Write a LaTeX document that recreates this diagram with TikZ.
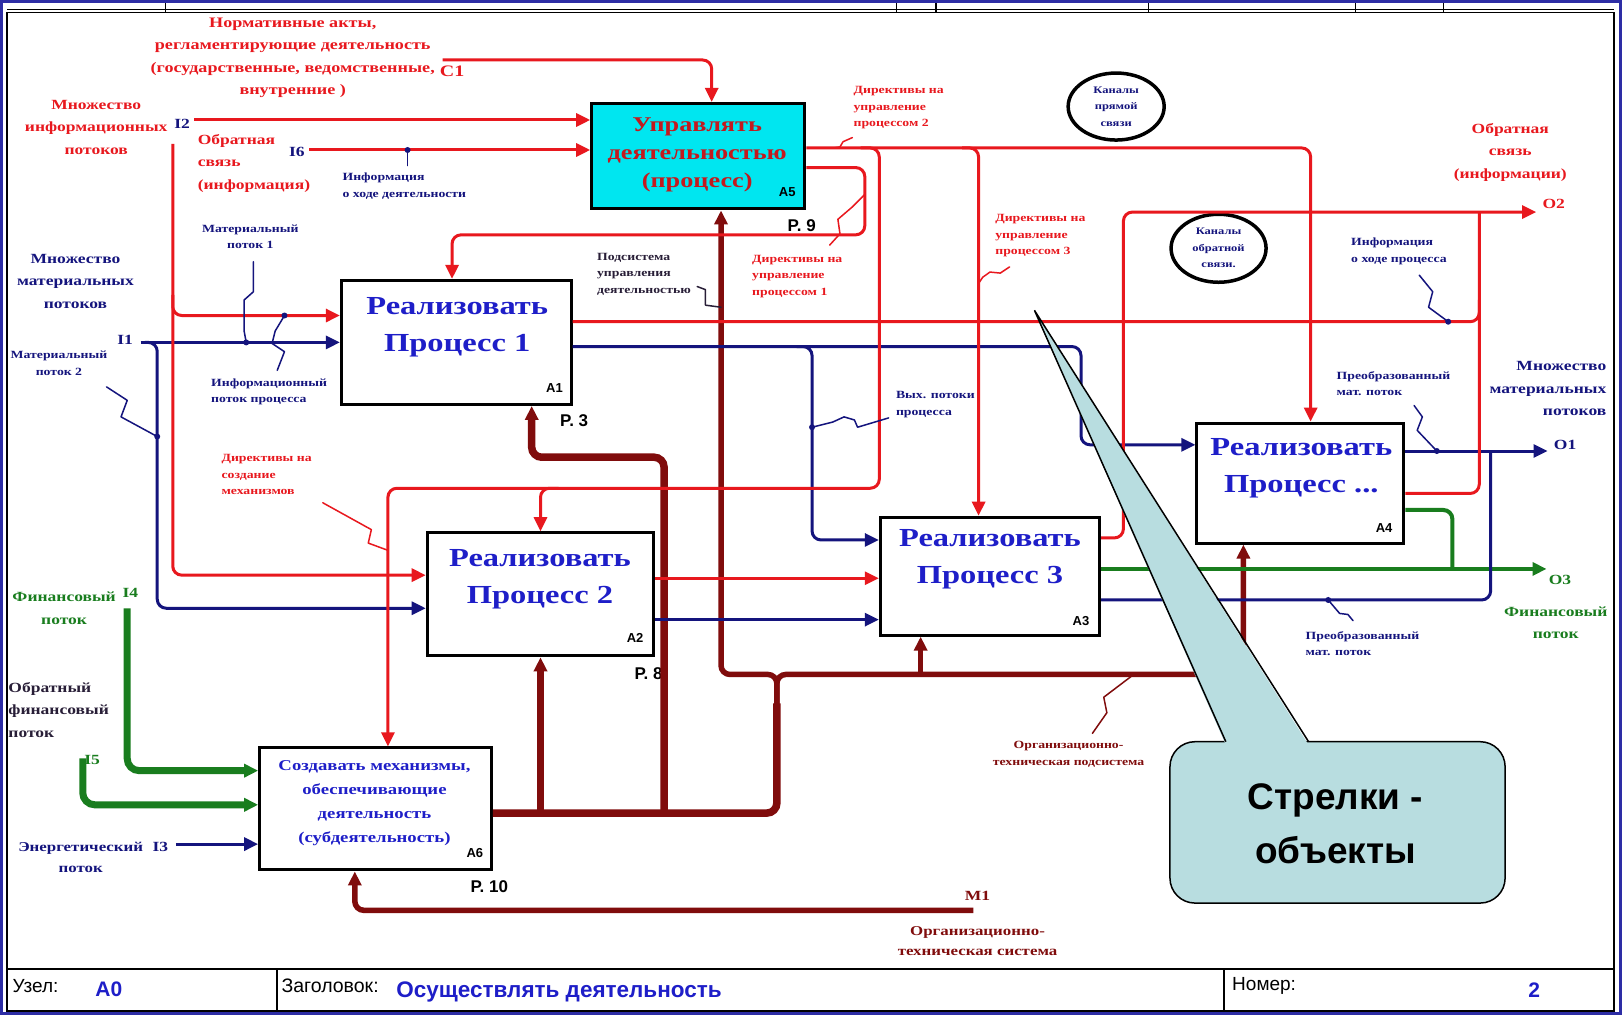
\documentclass[tikz,border=0pt]{standalone}
\usepackage{fontspec}
\setmainfont{Liberation Serif}
\newfontfamily\dser[FakeStretch=1.25]{Liberation Serif}
\newfontfamily\dsans{Liberation Sans}
\usetikzlibrary{arrows.meta,fit,shapes.geometric}
\definecolor{cred}{RGB}{232,24,30}
\definecolor{cnavy}{RGB}{20,20,125}
\definecolor{cgreen}{RGB}{25,125,30}
\definecolor{cmaroon}{RGB}{128,12,12}
\definecolor{cblue}{RGB}{30,30,200}
\definecolor{cdred}{RGB}{195,25,30}
\definecolor{ccyan}{RGB}{0,230,240}
\definecolor{ccall}{RGB}{184,221,224}
\definecolor{cframe}{RGB}{45,45,165}
\definecolor{cdark}{RGB}{40,30,55}
\newcommand\fsz[2]{\fontsize{#1}{#2}\selectfont}
\begin{document}
\begin{tikzpicture}[x=1.0344pt,y=-1.0344pt,
  ibox/.style={draw=black, line width=3pt, fill=white, inner sep=0pt},
  boxt/.style={font=\dser\bfseries\fsz{26}{37}, text=cblue, align=center, inner sep=0pt},
  anum/.style={font=\dsans\bfseries\fsz{13}{15}, inner sep=0pt},
  pnum/.style={font=\dsans\bfseries\fsz{17}{20}, inner sep=0pt},
  tlab/.style={font=\dser\bfseries\fsz{14}{22.5}, align=center, inner sep=0pt},
  slab/.style={font=\dser\bfseries\fsz{11}{16.5}, align=left, inner sep=0pt, anchor=west},
  iolab/.style={font=\dser\bfseries\fsz{14}{16}, inner sep=0pt},
  rline/.style={draw=cred, line width=3pt, rounded corners=9pt},
  nline/.style={draw=cnavy, line width=3pt, rounded corners=9pt},
  gline/.style={draw=cgreen, line width=4pt, rounded corners=9pt},
  gthick/.style={draw=cgreen, line width=7pt, rounded corners=12pt},
  mline/.style={draw=cmaroon, line width=5.5pt, rounded corners=9pt},
  mthick/.style={draw=cmaroon, line width=7.5pt, rounded corners=10pt},
  arrtip/.style={-{Triangle[length=14pt,width=13pt]}},
  squig/.style={line width=1.5pt, line join=round, line cap=round},
]
\useasboundingbox (0,0) rectangle (1568,981);
% ---------- frame ----------
\fill[white] (0,0) rectangle (1568,981);
\draw[cframe, line width=3pt] (1.5,1.5) rectangle (1566.5,979.5);
\draw[black, line width=1.8pt] (7,12) rectangle (1560,977);
\draw[black, line width=0.7pt] (7,9) -- (1560,9);
\foreach \x in {160,867,1110,1310,1395} \draw[line width=1pt] (\x,3) -- (\x,12);
\draw[line width=2pt] (905,3) -- (905,12);
\draw[line width=1.8pt] (7,937) -- (1560,937);
\draw[line width=1.5pt] (268,937) -- (268,977);
\draw[line width=1.5pt] (1183,937) -- (1183,977);
% ---------- boxes ----------
\node[ibox, fit={(330,271)(552,391)}] (A1) {};
\node[ibox, fit={(413,515)(632,634)}] (A2) {};
\node[ibox, fit={(851,500)(1063,614)}] (A3) {};
\node[ibox, fit={(1157,409)(1357,525)}] (A4) {};
\node[ibox, fill=ccyan, fit={(572,100)(778,202)}] (A5) {};
\node[ibox, fit={(251,723)(475,841)}] (A6) {};
\node[draw, ellipse, line width=3.5pt, minimum width=96pt, minimum height=67pt, inner sep=0pt] (E1) at (1079,103) {};
\node[draw, ellipse, line width=3.5pt, minimum width=95pt, minimum height=68pt, inner sep=0pt] (E2) at (1178,240) {};
% ---------- free ends ----------
\coordinate (C1s) at (428,58);
\coordinate (I2s) at (188,116);
\coordinate (I2v) at (167,139);
\coordinate (I6s) at (299,145);
\coordinate (I1s) at (136,331);
\coordinate (I3s) at (170,816);
\coordinate (I4s) at (123,588);
\coordinate (I5s) at (80,733);
\coordinate (M1s) at (941,880);
\coordinate (O1e) at (1496,436);
\coordinate (O2e) at (1485,205);
\coordinate (O3e) at (1495,550);
% ---------- labels under lines ----------
\node[pnum] at (627,651) {P. 8};
% ---------- maroon ----------
\draw[mline, arrtip] (M1s) -| (343,0 |- A6.south);
\draw[mthick] (A6.east |- 0,786) -| (751,680);
\draw[mthick, arrtip] (A2.south |- 0,786) -- (A2.south);
\draw[mthick, arrtip] (642,786) |- (514,442) -- (514,0 |- A1.south);
\draw[mline, arrtip] (751,690) |- (697,652) -- (697,0 |- A5.south);
\draw[mline, arrtip] (751,690) |- (1202,652) -- (1202,0 |- A4.south);
\draw[mline, arrtip] (890,652) -- (890,0 |- A3.south);
% ---------- green ----------
\draw[gline, arrtip] (A3.east |- O3e) -- (O3e);
\draw[gline] (A4.east |- 0,493) -| (1404,550);
\draw[gthick, arrtip] (I4s) |- (A6.west |- 0,745);
\draw[gthick, arrtip] (I5s) |- (A6.west |- 0,778);
% ---------- navy ----------
\draw[nline, arrtip] (I1s) -- (A1.west |- I1s);
\draw[nline, arrtip] (140,331) -| (152,588) -- (A2.west |- 0,588);
\draw[nline, arrtip] (A1.east |- 0,335) -| (1045,430) -- (A4.west |- 0,430);
\draw[nline, arrtip] (770,335) -| (785,522) -- (A3.west |- 0,522);
\draw[nline, arrtip] (A2.east |- 0,599) -- (A3.west |- 0,599);
\draw[nline] (A3.east |- 0,580) -| (1441,436);
\draw[nline, arrtip] (A4.east |- O1e) -- (O1e);
\draw[nline, arrtip] (I3s) -- (A6.west |- I3s);
% ---------- red ----------
\draw[rline, arrtip] (C1s) -| (688,0 |- A5.north);
\draw[rline, arrtip] (I2s) -- (A5.west |- I2s);
\draw[rline, arrtip] (I6s) -- (A5.west |- I6s);
\draw[rline, arrtip] (I2v) |- (A2.west |- 0,556);
\draw[rline, arrtip] (167,285) |- (A1.west |- 0,305);
\draw[rline, arrtip] (A5.east |- 0,143) -| (1267,0 |- A4.north);
\draw[rline, arrtip] (832,143) -| (850,472) -| (375,0 |- A6.north);
\draw[rline, arrtip] (540,472) -| (A2.north);
\draw[rline, arrtip] (930,143) -| (946,0 |- A3.north);
\draw[rline, arrtip] (A5.east |- 0,162) -| (836,227) -| (437,0 |- A1.north);
\draw[rline, arrtip] (A3.east |- 0,520) -| (1086,205) -- (O2e);
\draw[rline] (A4.east |- 0,477) -| (1430,205);
\draw[rline] (A1.east |- 0,311) -| (1430,290);
\draw[rline, arrtip] (A2.east |- 0,559) -- (A3.west |- 0,559);
% ---------- squiggles ----------
\draw[squig, cnavy] (394,145) -- (394,160);
\fill[cnavy] (394,145) circle (3pt);
\draw[squig, cnavy] (245,253) -- (245,282) -- (236,290) -- (236,320) -- (238,331);
\fill[cnavy] (238,331) circle (3pt);
\draw[squig, cnavy] (268,358) -- (275,340) -- (263,332) -- (266,320) -- (275,305);
\fill[cnavy] (275,305) circle (3pt);
\draw[squig, cnavy] (103,374) -- (123,387) -- (117,403) -- (152,422);
\fill[cnavy] (152,422) circle (3pt);
\draw[squig, cred] (312,486) -- (359,512) -- (356,525) -- (375,532);
\draw[squig, cred] (824,133) -- (815,137) -- (812,142) -- (806,143);
\draw[squig, cred] (802,237) -- (812,226) -- (810,212) -- (824,200) -- (836,188);
\draw[squig, cred] (976,258) -- (967,264) -- (957,263) -- (950,268) -- (946,274);
\draw[squig, cdark] (674,277) -- (682,280) -- (682,295) -- (697,297);
\draw[squig, cnavy] (859,404) -- (829,413) -- (826,406) -- (816,403) -- (805,408) -- (785,413);
\fill[cnavy] (785,413) circle (3pt);
\draw[squig, cnavy] (1372,266) -- (1385,282) -- (1381,297) -- (1400,311);
\fill[cnavy] (1400,311) circle (3pt);
\draw[squig, cnavy] (1367,392) -- (1375,403) -- (1370,416) -- (1389,436);
\fill[cnavy] (1389,436) circle (3pt);
\draw[squig, cnavy] (1308,600) -- (1303,594) -- (1295,593) -- (1284,580);
\fill[cnavy] (1284,580) circle (3pt);
\draw[squig, cmaroon] (1056,709) -- (1070,689) -- (1067,674) -- (1096,652);
% ---------- box texts ----------
\node[boxt, text=cdred, font=\dser\bfseries\fsz{21}{28}] at (674,150) {Управлять\\деятельностью\\(процесс)};
\node[boxt] at (442,316) {Реализовать\\Процесс 1};
\node[boxt] at (522,560) {Реализовать\\Процесс 2};
\node[boxt] at (957,541) {Реализовать\\Процесс 3};
\node[boxt] at (1258,453) {Реализовать\\Процесс ...};
\node[boxt, font=\dser\bfseries\fsz{15}{24}] at (362,776) {Создавать механизмы,\\обеспечивающие\\деятельность\\(субдеятельность)};
\node[anum] at (761,186) {A5};
\node[anum] at (536,375) {A1};
\node[anum] at (614,617) {A2};
\node[anum] at (1045,600) {A3};
\node[anum] at (1338,510) {A4};
\node[anum] at (459,825) {A6};
\node[pnum] at (775,218) {P. 9};
\node[pnum] at (555,407) {P. 3};
\node[pnum] at (473,857) {P. 10};
% ---------- side labels ----------
\node[tlab, text=cred, font=\dser\bfseries\fsz{14.5}{22.5}] at (283,56) {Нормативные акты,\\регламентирующие деятельность\\(государственные, ведомственные,\\внутренние )};
\node[iolab, text=cred, font=\dser\bfseries\fsz{16}{18}] at (437,69) {C1};
\node[tlab, text=cred] at (93,123) {Множество\\информационных\\потоков};
\node[iolab, text=cnavy] at (176,120) {I2};
\node[tlab, text=cred, align=left, anchor=west] at (191,158) {Обратная\\связь\\(информация)};
\node[iolab, text=cnavy] at (287,147) {I6};
\node[slab, text=cnavy] at (331,180) {Информация\\о ходе деятельности};
\node[slab, text=cnavy, align=center, anchor=center] at (242,229) {Материальный\\поток 1};
\node[tlab, text=cnavy] at (73,272) {Множество\\материальных\\потоков};
\node[iolab, text=cnavy] at (121,329) {I1};
\node[slab, text=cnavy, align=center, anchor=center] at (57,351) {Материальный\\поток 2};
\node[slab, text=cnavy] at (204,379) {Информационный\\поток процесса};
\node[slab, text=cred] at (214,459) {Директивы на\\создание\\механизмов};
\node[tlab, text=cgreen] at (62,588) {Финансовый\\поток};
\node[iolab, text=cgreen] at (126,573) {I4};
\node[tlab, text=cdark, align=left, anchor=west] at (8,686) {Обратный\\финансовый\\поток};
\node[iolab, text=cgreen] at (89,735) {I5};
\node[tlab, text=cnavy, font=\dser\bfseries\fsz{13.5}{21}] at (78,829) {Энергетический\\поток};
\node[iolab, text=cnavy] at (155,819) {I3};
\node[slab, text=cred] at (825,104) {Директивы на\\управление\\процессом 2};
\node[slab, text=cred] at (727,267) {Директивы на\\управление\\процессом 1};
\node[slab, text=cdark] at (577,265) {Подсистема\\управления\\деятельностью};
\node[slab, text=cred] at (962,228) {Директивы на\\управление\\процессом 3};
\node[slab, text=cnavy, align=center, anchor=center, font=\dser\bfseries\fsz{10}{16.5}] at (E1) {Каналы\\прямой\\связи};
\node[slab, text=cnavy, align=center, anchor=center, font=\dser\bfseries\fsz{10}{16.5}] at (E2) {Каналы\\обратной\\связи.};
\node[tlab, text=cred] at (1460,147) {Обратная\\связь\\(информации)};
\node[iolab, text=cred] at (1502,197) {O2};
\node[slab, text=cnavy] at (1306,243) {Информация\\о ходе процесса};
\node[slab, text=cnavy] at (866,391) {Вых. потоки\\процесса};
\node[slab, text=cnavy] at (1292,371) {Преобразованный\\мат. поток};
\node[tlab, text=cnavy, align=right, anchor=east] at (1553,376) {Множество\\материальных\\потоков};
\node[iolab, text=cnavy] at (1513,430) {O1};
\node[iolab, text=cgreen] at (1508,561) {O3};
\node[tlab, text=cgreen] at (1504,602) {Финансовый\\поток};
\node[slab, text=cnavy] at (1262,622) {Преобразованный\\мат. поток};
\node[slab, text=cmaroon, align=center, anchor=center] at (1033,729) {Организационно-\\техническая подсистема};
\node[iolab, text=cmaroon] at (945,866) {M1};
\node[tlab, text=cmaroon, font=\dser\bfseries\fsz{13.5}{20}] at (945,910) {Организационно-\\техническая система};
% ---------- footer ----------
\node[font=\dsans\fsz{19}{22}, anchor=west, inner sep=0pt] at (12,953) {Узел:};
\node[font=\dsans\bfseries\fsz{21}{24}, text=cblue, anchor=west, inner sep=0pt] at (92,956) {A0};
\node[font=\dsans\fsz{19.5}{22}, anchor=west, inner sep=0pt] at (272,953) {Заголовок:};
\node[font=\dsans\bfseries\fsz{22.5}{26}, text=cblue, anchor=west, inner sep=0pt] at (383,959) {Осуществлять деятельность};
\node[font=\dsans\fsz{19}{22}, anchor=west, inner sep=0pt] at (1191,953) {Номер:};
\node[font=\dsans\bfseries\fsz{21}{24}, text=cblue, inner sep=0pt] at (1483,957) {2};
% ---------- callout ----------
\node[draw, fill=ccall, line width=1.5pt, rounded corners=25pt, inner sep=0pt, fit={(1131,717)(1455,873)}] (CO) {};
\fill[ccall] (1185,720) -- (1000,300) -- (1265,720) -- cycle;
\draw[line width=1.5pt, line join=miter] (1185,717) -- (1000,300) -- (1265,717);
\node[font=\dsans\bfseries\fsz{37}{54}, align=center] at (1291,796) {Стрелки -\\объекты};
\end{tikzpicture}
\end{document}
